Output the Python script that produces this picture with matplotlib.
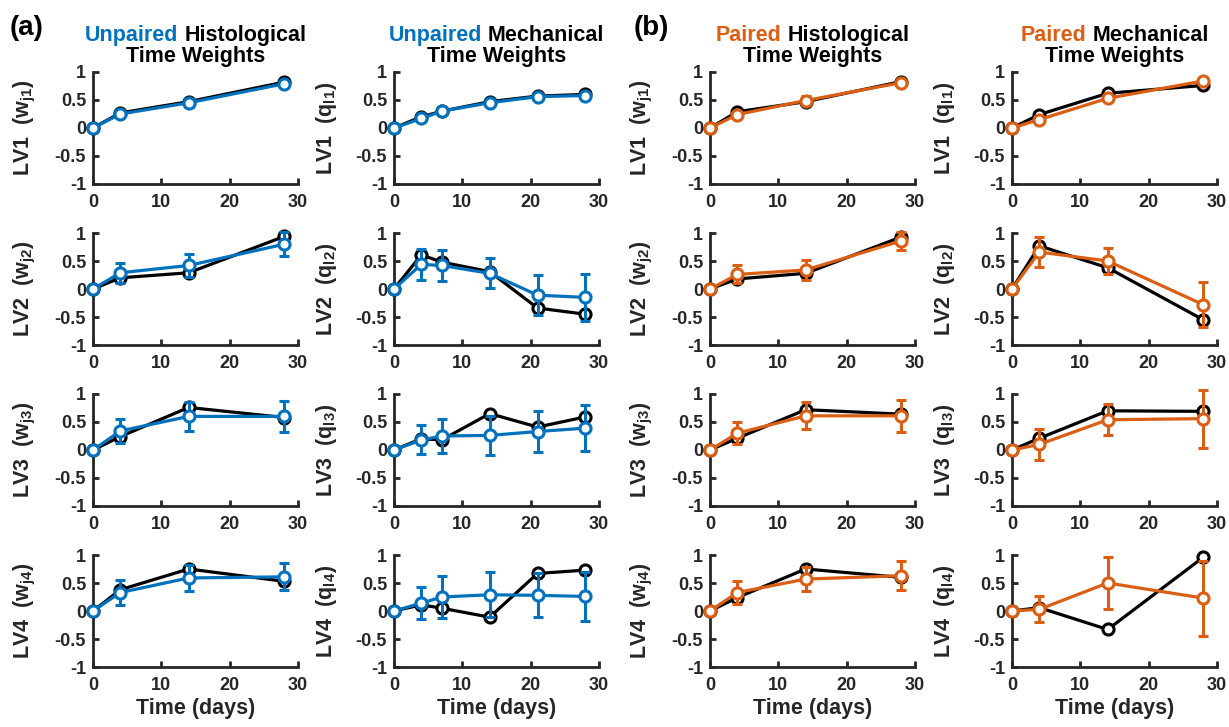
import matplotlib
matplotlib.use("Agg")
import matplotlib.pyplot as plt
import numpy as np

plt.rcParams['font.family'] = ['Liberation Sans', 'DejaVu Sans']
plt.rcParams['font.weight'] = 'bold'
plt.rcParams['axes.unicode_minus'] = False
plt.rcParams['mathtext.fontset'] = 'custom'
plt.rcParams['mathtext.rm'] = 'Liberation Sans:bold'
plt.rcParams['mathtext.it'] = 'Liberation Sans:bold'
plt.rcParams['mathtext.bf'] = 'Liberation Sans:bold'

# ---------------- data ----------------
t_hist = [0, 4, 14, 28]
t_mech_unp = [0, 4, 7, 14, 21, 28]
t_mech_p = [0, 4, 14, 28]

# Unpaired histological (black reference, blue mean, blue error)
uh_black = [[0, 0.27, 0.47, 0.82], [0, 0.20, 0.29, 0.94], [0, 0.24, 0.76, 0.58], [0, 0.38, 0.75, 0.53]]
uh_mean = [[0, 0.25, 0.45, 0.79], [0, 0.29, 0.42, 0.80], [0, 0.34, 0.60, 0.60], [0, 0.33, 0.59, 0.61]]
uh_err = [[0, 0.03, 0.07, 0.04], [0, 0.18, 0.21, 0.21], [0, 0.22, 0.26, 0.27], [0, 0.23, 0.24, 0.24]]

# Unpaired mechanical
um_black = [[0, 0.20, 0.30, 0.47, 0.57, 0.60], [0, 0.61, 0.48, 0.31, -0.34, -0.45],
            [0, 0.20, 0.18, 0.65, 0.41, 0.59], [0, 0.11, 0.05, -0.11, 0.67, 0.73]]
um_mean = [[0, 0.17, 0.30, 0.45, 0.56, 0.58], [0, 0.44, 0.42, 0.28, -0.11, -0.15],
           [0, 0.18, 0.25, 0.26, 0.33, 0.39], [0, 0.14, 0.25, 0.29, 0.28, 0.26]]
um_err = [[0, 0.03, 0.04, 0.03, 0.03, 0.02], [0, 0.28, 0.28, 0.27, 0.36, 0.42],
          [0, 0.26, 0.31, 0.35, 0.37, 0.41], [0, 0.28, 0.37, 0.40, 0.39, 0.43]]

# Paired histological
ph_black = [[0, 0.29, 0.47, 0.83], [0, 0.18, 0.28, 0.93], [0, 0.21, 0.72, 0.64], [0, 0.24, 0.75, 0.60]]
ph_mean = [[0, 0.24, 0.49, 0.81], [0, 0.26, 0.34, 0.86], [0, 0.30, 0.61, 0.61], [0, 0.33, 0.57, 0.63]]
ph_err = [[0, 0.03, 0.08, 0.04], [0, 0.16, 0.18, 0.16], [0, 0.20, 0.24, 0.28], [0, 0.21, 0.22, 0.26]]

# Paired mechanical
pm_black = [[0, 0.24, 0.62, 0.76], [0, 0.77, 0.38, -0.55], [0, 0.21, 0.70, 0.69], [0, 0.06, -0.33, 0.96]]
pm_mean = [[0, 0.15, 0.53, 0.84], [0, 0.66, 0.50, -0.28], [0, 0.10, 0.54, 0.56], [0, 0.03, 0.50, 0.23]]
pm_err = [[0, 0.03, 0.05, 0.03], [0, 0.27, 0.24, 0.40], [0, 0.27, 0.28, 0.52], [0, 0.23, 0.46, 0.67]]

yticks = [-1, -0.5, 0, 0.5, 1]
yticklabels = ['-1', '-0.5', '0', '0.5', '1']
xticks = [0, 10, 20, 30]

BLUE = '#0072BD'
ORANGE = '#DA5E14'
AXC = '#262626'

columns = [
    dict(t=t_hist, black=uh_black, mean=uh_mean, err=uh_err, color=BLUE, word='Unpaired', kind='Histological', sym='w', sub='j'),
    dict(t=t_mech_unp, black=um_black, mean=um_mean, err=um_err, color=BLUE, word='Unpaired', kind='Mechanical', sym='q', sub='l'),
    dict(t=t_hist, black=ph_black, mean=ph_mean, err=ph_err, color=ORANGE, word='Paired', kind='Histological', sym='w', sub='j'),
    dict(t=t_mech_p, black=pm_black, mean=pm_mean, err=pm_err, color=ORANGE, word='Paired', kind='Mechanical', sym='q', sub='l'),
]

W, H = 1229, 727
fig = plt.figure(figsize=(W / 100, H / 100), dpi=100)

col_left = [93, 394, 710, 1012]
ax_w = 205
row_top = [72, 233, 394, 555]
ax_h = 112

for c, col in enumerate(columns):
    for r in range(4):
        ax = fig.add_axes([col_left[c] / W, 1 - (row_top[r] + ax_h) / H, ax_w / W, ax_h / H])
        ax.plot(col['t'], col['black'][r], color='k', lw=2.3, marker='o', ms=8, mew=2.2,
                mfc='white', mec='k', clip_on=False, zorder=3)
        ax.errorbar(col['t'], col['mean'][r], yerr=col['err'][r], color=col['color'], lw=2.3,
                    marker='o', ms=8, mew=2.2, mfc='white', mec=col['color'], capsize=3.5,
                    capthick=2.2, elinewidth=2.2, clip_on=False, zorder=4)
        ax.set_xlim(0, 30)
        ax.set_ylim(-1, 1)
        ax.set_xticks(xticks)
        ax.set_yticks(yticks)
        ax.set_yticklabels(yticklabels)
        for s in ['top', 'right']:
            ax.spines[s].set_visible(False)
        for s in ['left', 'bottom']:
            ax.spines[s].set_linewidth(2)
            ax.spines[s].set_color(AXC)
        ax.tick_params(direction='in', length=4, width=2, colors=AXC, labelsize=13)
        ax.tick_params(axis='x', pad=7)
        ax.tick_params(axis='y', pad=5)
        for lab in ax.get_xticklabels() + ax.get_yticklabels():
            lab.set_fontweight('bold')
        ax.set_ylabel('LV%d  (%s$_{\\rm %s%d}$)' % (r + 1, col['sym'], col['sub'], r + 1),
                      fontsize=15.5, fontweight='bold', color=AXC)
        ax.yaxis.set_label_coords(-0.27, 0.5)
        if r == 3:
            ax.set_xlabel('Time (days)', fontsize=15.5, fontweight='bold', color=AXC, labelpad=3)

# titles (two-colour first line)
fig.canvas.draw()
renderer = fig.canvas.get_renderer()
for c, col in enumerate(columns):
    cx = col_left[c] + ax_w / 2
    y1 = H - 41
    y2 = H - 62
    ta = fig.text(0, y1 / H, col['word'], color=col['color'], fontsize=15.5, fontweight='bold', ha='left', va='baseline')
    tb = fig.text(0, y1 / H, col['kind'], color='k', fontsize=15.5, fontweight='bold', ha='left', va='baseline')
    wa = ta.get_window_extent(renderer).width
    wb = tb.get_window_extent(renderer).width
    gap = 6
    left = cx - (wa + gap + wb) / 2
    ta.set_x(left / W)
    tb.set_x((left + wa + gap) / W)
    fig.text(cx / W, y2 / H, 'Time Weights', color='k', fontsize=15.5, fontweight='bold', ha='center', va='baseline')

fig.text(10 / W, 1 - 35 / H, '(a)', fontsize=20, fontweight='bold', ha='left', va='baseline')
fig.text(634 / W, 1 - 35 / H, '(b)', fontsize=20, fontweight='bold', ha='left', va='baseline')

fig.savefig('out.png', dpi=100)
